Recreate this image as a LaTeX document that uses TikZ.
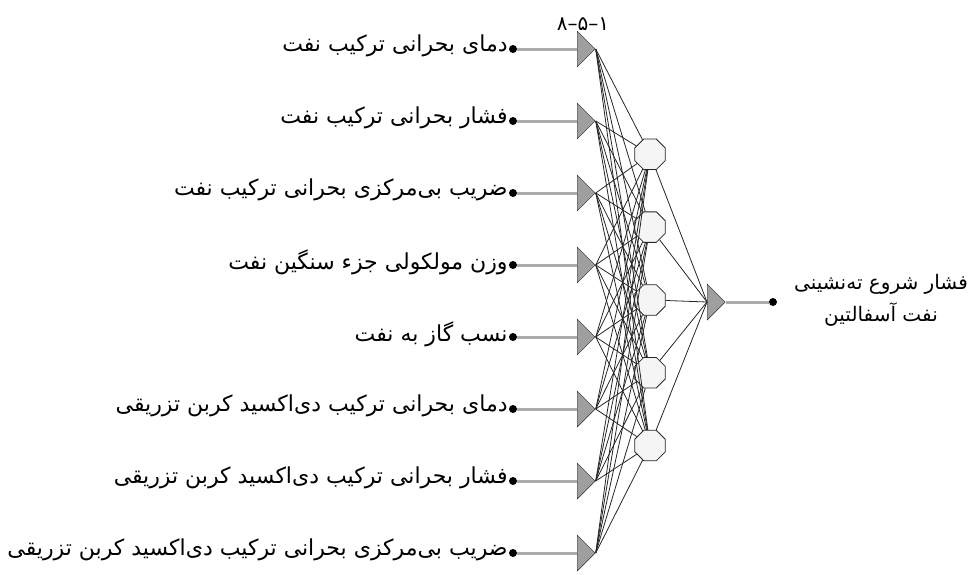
\documentclass[tikz,border=0pt]{standalone}
\usepackage{fontspec}
\usetikzlibrary{shapes.geometric}
\newfontfamily\farsi[Script=Arabic]{DejaVu Sans}
\TeXXeTstate=1

\begin{document}
\begin{tikzpicture}[x=1pt, y=-1pt,
    indot/.style={circle, fill=black, inner sep=0pt, minimum size=8pt},
    tri/.style={isosceles triangle, isosceles triangle stretches, shape border rotate=0,
      minimum height=18pt, minimum width=36pt, inner sep=0pt,
      draw=gray!30!black, fill=gray!75, anchor=west},
    hid/.style={regular polygon, regular polygon sides=8, minimum size=33pt, inner sep=0pt,
      draw=gray!30!black, fill=gray!8, line width=0.8pt},
    feed/.style={gray!65, line width=3pt},
    link/.style={black!85, line width=0.8pt},
    lbl/.style={font=\farsi\fontsize{22}{27}\selectfont}]
  \useasboundingbox (0,0) rectangle (977,574);
  % ورودی‌ها
  \foreach \t [count=\i from 0] in {دمای بحرانی ترکیب نفت, فشار بحرانی ترکیب نفت,
      ضریب بی‌مرکزی بحرانی ترکیب نفت, وزن مولکولی جزء سنگین نفت, نسب گاز به نفت,
      دمای بحرانی ترکیب دی‌اکسید کربن تزریقی, فشار بحرانی ترکیب دی‌اکسید کربن تزریقی,
      ضریب بی‌مرکزی بحرانی ترکیب دی‌اکسید کربن تزریقی} {
    \node[indot] (i\i) at (513, 49+72*\i) {};
    \node[tri] (t\i) at (577, 49+72*\i) {};
    \node[lbl, anchor=east, inner sep=1pt] (l\i) at ([yshift=3pt]i\i.west) {\beginR\t\endR};
    \draw[feed] (i\i) -- (t\i.west);
  }
  \node[font=\farsi\fontsize{20}{24}\selectfont] (title) at (583, 24) {۱–۵–۸};
  % لایه پنهان
  \foreach \j in {1,...,5}
    \node[hid] (h\j) at (650, 81.5+72.8*\j) {};
  % خروجی
  \node[tri] (ot) at (707, 302) {};
  \node[indot] (od) at (773, 302) {};
  \draw[feed] (ot.apex) -- (od);
  \node[lbl, font=\farsi\fontsize{20}{32}\selectfont, align=center] (ol) at (881, 300)
    {\beginR فشار شروع ته‌نشینی\endR\\\beginR نفت آسفالتین\endR};
  % اتصال‌ها
  \foreach \i in {0,...,7}
    \foreach \j in {1,...,5}
      \draw[link] (t\i.apex) -- (h\j);
  \foreach \j in {1,...,5}
    \draw[link] (h\j) -- (ot.west);
\end{tikzpicture}
\end{document}
